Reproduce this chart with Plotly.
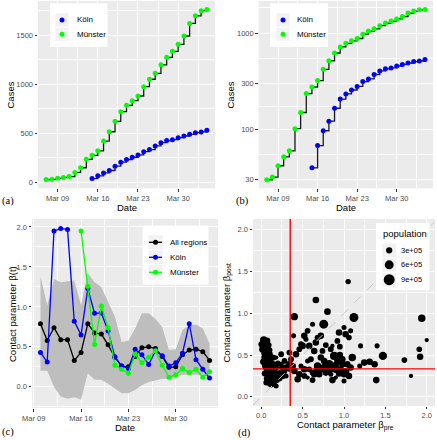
import plotly.graph_objects as go
import pandas as pd

# ---------------- data ----------------
munster_dates = pd.date_range("2020-03-07", "2020-04-04").strftime("%Y-%m-%d").tolist()
munster_cases = [30, 32, 42, 52, 60, 102, 150, 236, 276, 322, 421, 516, 622, 720, 785, 832, 880,
                 975, 1050, 1110, 1197, 1273, 1334, 1405, 1490, 1618, 1695, 1748, 1760]
koln_dates = pd.date_range("2020-03-15", "2020-04-04").strftime("%Y-%m-%d").tolist()
koln_cases = [40, 68, 97, 122, 166, 207, 234, 257, 280, 314, 335, 372, 405, 426, 436, 456,
              473, 490, 507, 514, 532]

beta_dates = pd.date_range("2020-03-10", "2020-04-04").strftime("%Y-%m-%d").tolist()
beta_all = [0.79, 0.58, 0.74, 0.59, 0.59, 0.33, 0.43, 0.79, 0.675, 0.66, 0.525, 0.37, 0.26,
            0.25, 0.38, 0.49, 0.50, 0.48, 0.38, 0.245, 0.25, 0.40, 0.46, 0.47, 0.44, 0.33]
beta_upper = [1.38, 1.02, 1.35, 1.31, 1.32, 1.33, 1.02, 1.42, 1.31, 1.25, 1.06, 0.88, 0.56,
              0.575, 0.73, 0.92, 0.92, 0.85, 0.75, 0.46, 0.47, 0.71, 0.77, 0.78, 0.73, 0.54]
beta_lower = [0.20, 0.20, 0.00, -0.12, -0.15, -0.13, -0.16, 0.17, 0.09, 0.09, 0.04, -0.02,
              -0.08, -0.08, -0.04, 0.02, 0.06, 0.08, 0.10, 0.10, 0.12, 0.15, 0.15, 0.15, 0.15, 0.12]
beta_koln = [0.43, 0.31, 1.95, 1.98, 1.97, 0.82, 0.65, 1.23, 0.92, 0.925, 0.70, 0.375, 0.26,
             0.23, 0.47, 0.40, 0.28, 0.45, 0.39, 0.26, 0.30, 0.42, 0.79, 0.34, 0.22, 0.11]
beta_munster_dates = pd.date_range("2020-03-16", "2020-04-04").strftime("%Y-%m-%d").tolist()
beta_munster = [1.95, 1.26, 0.53, 1.01, 0.74, 0.27, 0.22, 0.17, 0.41, 0.30, 0.37, 0.45, 0.27,
                0.12, 0.15, 0.23, 0.18, 0.22, 0.12, 0.19]

beta_pre = [1.05, 0.66, 1.12, 0.40, 0.80, 0.755, 1.94, 2.00, 1.91, 1.92, 1.73, 1.81, 1.39, 1.40,
            1.47, 1.37, 1.31, 1.245, 1.20, 1.19, 1.08, 1.06, 1.02, 1.00, 0.94, 0.92, 1.10, 1.08,
            1.02, 0.94, 0.86, 0.88, 0.82, 0.76, 0.68, 0.64, 0.62, 0.84, 0.86, 0.56, 0.52, 0.62,
            0.68, 0.50, 0.46, 0.42, 0.39, 0.34, 0.36, 0.46, 0.44, 0.52, 0.56, 0.70, 0.78, 0.98,
            1.04, 0.34, 0.28, 0.28, 0.24, 0.26, 0.30, 0.03, 0.06, 0.02, 0.08, 0.10, 0.04, 0.08,
            0.14, 0.06, 0.12, 0.18, 0.08, 0.14, 0.10, 0.16, 0.12, 0.20, 0.22, 0.24, 0.00, 0.12,
            0.18, 0.04, 0.06, 0.18, 0.30, 0.34, 0.38, 0.40, 0.48, 0.56, 0.64, 0.66, 0.72, 0.58,
            0.54, 0.90, 0.96, 1.00, 1.06, 0.92, 0.98, 0.76, 0.72, 0.84, 0.90, 1.00,
            0.02, 0.05, 0.09, 0.04, 0.07, 0.11, 0.02, 0.05, 0.09, 0.13, 0.16, 0.11, 0.07, 0.04,
            0.07, 0.13, 0.17, 0.09, 0.14, 0.19, 0.22, 0.26, 0.25, 0.20, 0.15, 0.07, 0.10,
            0.72, 0.78, 0.84, 0.80, 0.66, 0.58, 0.90, 0.95, 0.74, 0.78, 0.95, 0.60, 0.48, 0.52, 0.62]
beta_post = [1.38, 1.16, 0.95, 0.96, 1.02, 0.87, 0.94, 0.68, 0.57, 0.48, 0.44, 0.25, 0.20, 0.61,
             0.49, 0.39, 0.42, 0.41, 0.61, 0.37, 0.79, 0.71, 0.75, 0.83, 0.77, 0.67, 0.47, 0.35,
             0.30, 0.28, 0.20, 0.49, 0.39, 0.35, 0.37, 0.55, 0.29, 0.57, 0.61, 0.79, 0.73, 0.87,
             0.71, 0.61, 0.57, 0.51, 0.73, 0.53, 0.45, 0.27, 0.21, 0.33, 0.43, 0.27, 0.29, 0.39,
             0.39, 0.34, 0.31, 0.43, 0.51, 0.24, 0.25, 0.68, 0.65, 0.57, 0.57, 0.51, 0.47, 0.41,
             0.39, 0.35, 0.33, 0.35, 0.27, 0.27, 0.21, 0.19, 0.15, 0.23, 0.29, 0.39, 0.63, 0.47,
             0.47, 0.39, 0.17, 0.13, 0.35, 0.39, 0.37, 0.31, 0.37, 0.23, 0.27, 0.65, 0.73, 0.61,
             0.69, 0.33, 0.33, 0.27, 0.25, 0.43, 0.45, 0.43, 0.47, 0.27, 0.23, 0.19,
             0.62, 0.60, 0.62, 0.52, 0.48, 0.44, 0.42, 0.37, 0.38, 0.35, 0.30, 0.30, 0.31, 0.28,
             0.22, 0.23, 0.25, 0.17, 0.17, 0.20, 0.22, 0.28, 0.35, 0.40, 0.47, 0.67, 0.56,
             0.33, 0.36, 0.33, 0.30, 0.30, 0.33, 0.38, 0.50, 0.55, 0.62, 0.60, 0.45, 0.63, 0.25, 0.20]
population = [220000, 330000, 600000, 400000, 330000, 600000, 420000, 140000, 240000, 320000,
              240000, 140000, 320000, 190000, 520000, 320000, 330000, 330000, 190000, 190000,
              190000, 240000, 320000, 190000, 320000, 250000, 420000, 320000, 420000, 320000,
              320000, 500000, 560000, 420000, 420000, 320000, 250000, 250000, 140000, 250000,
              320000, 190000, 250000, 320000, 250000, 320000, 190000, 250000, 250000, 320000,
              320000, 320000, 190000, 320000, 320000, 320000, 320000, 320000, 250000, 250000,
              250000, 190000, 190000, 420000, 320000, 420000, 320000, 320000, 320000, 320000,
              320000, 320000, 320000, 250000, 320000, 320000, 320000, 320000, 320000, 250000,
              190000, 190000, 250000, 190000, 140000, 250000, 250000, 190000, 320000, 320000,
              320000, 320000, 190000, 140000, 320000, 320000, 320000, 320000, 190000, 420000,
              320000, 320000, 320000, 320000, 320000, 320000, 320000, 190000, 140000, 190000,
              320000, 320000, 250000, 320000, 320000, 320000, 250000, 320000, 320000, 320000,
              320000, 320000, 320000, 250000, 320000, 320000, 320000, 320000, 250000, 250000,
              250000, 250000, 250000, 250000, 250000, 320000, 250000,
              320000, 320000, 320000, 320000, 320000, 250000, 320000, 320000, 250000, 250000,
              250000, 250000, 250000, 250000, 250000]
legend_pops = [300000, 600000, 900000]
legend_pop_labels = ["3e+05", "6e+05", "9e+05"]
beta_ref_pre = 0.35
beta_ref_post = 0.335

# ---------------- styling ----------------
BLUE = "#0000FF"
GREEN = "#00FF00"
PANEL = "#EBEBEB"
KEYBG = "#F2F2F2"
FONT = "Liberation Sans, Arial, sans-serif"
TICKC = "#4D4D4D"
SIZEREF = 15000
W, H = 437, 440


def bubble_diam(p):
    return (2 * p / SIZEREF) ** 0.5


fig = go.Figure()

# (a) linear and (b) log cumulative cases
for xa, ya in [("x", "y"), ("x2", "y2")]:
    for dates, cases in [(koln_dates, koln_cases), (munster_dates, munster_cases)]:
        fig.add_trace(go.Scatter(x=dates, y=cases, mode="lines",
                                 line=dict(shape="hv", color="#1A1A1A", width=1.3),
                                 xaxis=xa, yaxis=ya, hoverinfo="skip"))
    for dates, cases, name, col in [(koln_dates, koln_cases, "Köln", BLUE),
                                    (munster_dates, munster_cases, "Münster", GREEN)]:
        fig.add_trace(go.Scatter(x=dates, y=cases, mode="markers", marker=dict(color=col, size=5),
                                 name=name, xaxis=xa, yaxis=ya))

# (c) contact parameter over time
fig.add_trace(go.Scatter(x=beta_dates, y=beta_upper, mode="lines", line=dict(width=0),
                         xaxis="x3", yaxis="y3", hoverinfo="skip"))
fig.add_trace(go.Scatter(x=beta_dates, y=beta_lower, mode="lines", line=dict(width=0),
                         fill="tonexty", fillcolor="#BEBEBE",
                         xaxis="x3", yaxis="y3", hoverinfo="skip"))
for dates, vals, name, col in [(beta_dates, beta_all, "All regions", "black"),
                               (beta_dates, beta_koln, "Köln", BLUE),
                               (beta_munster_dates, beta_munster, "Münster", GREEN)]:
    fig.add_trace(go.Scatter(x=dates, y=vals, mode="lines+markers", name=name,
                             line=dict(color=col, width=1.3), marker=dict(color=col, size=5),
                             xaxis="x3", yaxis="y3"))

# (d) scatter pre vs post
fig.add_trace(go.Scatter(x=beta_pre, y=beta_post, mode="markers",
                         marker=dict(color="black", size=population, sizemode="area", sizeref=SIZEREF,
                                     opacity=1, line=dict(width=0)),
                         xaxis="x4", yaxis="y4"))
fig.add_trace(go.Scatter(x=[-0.1, 2.1], y=[-0.1, 2.1], mode="lines",
                         line=dict(color="#C8C8C8", width=1, dash="dash"),
                         xaxis="x4", yaxis="y4", hoverinfo="skip"))
fig.add_trace(go.Scatter(x=[beta_ref_pre, beta_ref_pre], y=[-0.2, 2.3], mode="lines",
                         line=dict(color="#FF0000", width=1.4), xaxis="x4", yaxis="y4",
                         hoverinfo="skip"))
fig.add_trace(go.Scatter(x=[-0.2, 2.3], y=[beta_ref_post, beta_ref_post], mode="lines",
                         line=dict(color="#FF0000", width=1.4), xaxis="x4", yaxis="y4",
                         hoverinfo="skip"))


def dom_x(a, b):
    return [a / W, b / W]


def dom_y(top, bottom):
    return [1 - bottom / H, 1 - top / H]


def ax(**kw):
    d = dict(showgrid=True, gridcolor="white", gridwidth=1.1, zeroline=False,
             ticks="outside", ticklen=2.5, tickwidth=1, tickcolor="#333333",
             tickfont=dict(family=FONT, size=7.5, color=TICKC), showline=False,
             automargin=False, fixedrange=True)
    d.update(kw)
    return d


def minor(vals):
    return dict(showgrid=True, gridcolor="white", gridwidth=0.55, ticks="", tickvals=vals)


date_ticks = ["2020-03-09", "2020-03-16", "2020-03-23", "2020-03-30"]
date_minor = ["2020-03-05 12:00", "2020-03-12 12:00", "2020-03-19 12:00",
              "2020-03-26 12:00", "2020-04-02 12:00"]
beta_vals = [0, 0.5, 1, 1.5, 2]
beta_text = ["0.0", "0.5", "1.0", "1.5", "2.0"]

layout = dict(
    width=W, height=H, margin=dict(l=0, r=0, t=0, b=0), showlegend=False,
    paper_bgcolor="white", plot_bgcolor=PANEL, font=dict(family=FONT),
    xaxis=ax(domain=dom_x(38, 215), anchor="y", type="date",
             range=["2020-03-05 14:00", "2020-04-05 10:00"], tickvals=date_ticks,
             tickformat="%b %d", minor=minor(date_minor)),
    yaxis=ax(domain=dom_y(1, 188.3), anchor="x", range=[-59, 1846],
             tickvals=[0, 500, 1000, 1500], minor=minor([250, 750, 1250, 1750])),
    xaxis2=ax(domain=dom_x(258.7, 433), anchor="y2", type="date",
              range=["2020-03-05 14:00", "2020-04-05 10:00"], tickvals=date_ticks,
              tickformat="%b %d", minor=minor(date_minor)),
    yaxis2=ax(domain=dom_y(1, 188.3), anchor="x2", type="log", range=[1.389, 3.334],
              tickvals=[30, 100, 300, 1000], ticktext=["30", "100", "300", "1000"],
              minor=minor([54.8, 173.2, 547.7, 1828])),
    xaxis3=ax(domain=dom_x(32, 218), anchor="y3", type="date",
              range=["2020-03-08 18:00", "2020-04-05 06:00"], tickvals=date_ticks,
              tickformat="%b %d", minor=minor(date_minor)),
    yaxis3=ax(domain=dom_y(219, 408), anchor="x3", range=[-0.265, 2.1],
              tickvals=beta_vals, ticktext=beta_text, minor=minor([-0.25, 0.25, 0.75, 1.25, 1.75])),
    xaxis4=ax(domain=dom_x(253, 435), anchor="y4", range=[-0.1, 2.1], ticklen=2,
              tickvals=beta_vals, ticktext=beta_text, minor=minor([0.25, 0.75, 1.25, 1.75])),
    yaxis4=ax(domain=dom_y(219, 406), anchor="x4", range=[-0.11, 2.13],
              tickvals=beta_vals, ticktext=beta_text, minor=minor([0.25, 0.75, 1.25, 1.75])),
)

shapes = []
annotations = []


def px_x(x):
    return x / W


def px_y(y):
    return 1 - y / H


def add_text(text, x, y, size=8, anchor="left", angle=0, family=FONT, color="black"):
    annotations.append(dict(text=text, x=px_x(x), y=px_y(y), xref="paper", yref="paper",
                            xanchor=anchor, yanchor="middle", showarrow=False, textangle=angle,
                            font=dict(family=family, size=size, color=color)))


def add_rect(x0, y0, x1, y1, fill, line_color=None, line_width=0):
    shapes.append(dict(type="rect", xref="paper", yref="paper", x0=px_x(x0), x1=px_x(x1),
                       y0=px_y(y1), y1=px_y(y0), fillcolor=fill,
                       line=dict(color=line_color or fill, width=line_width), layer="above"))


def add_dot(cx, cy, d, color):
    shapes.append(dict(type="circle", xref="paper", yref="paper", x0=px_x(cx - d / 2),
                       x1=px_x(cx + d / 2), y0=px_y(cy + d / 2), y1=px_y(cy - d / 2),
                       fillcolor=color, line=dict(width=0), layer="above"))


def add_seg(x0, x1, y, color, width=1.3):
    shapes.append(dict(type="line", xref="paper", yref="paper", x0=px_x(x0), x1=px_x(x1),
                       y0=px_y(y), y1=px_y(y), line=dict(color=color, width=width), layer="above"))


# axis titles
TS = 9.5
add_text("Date", 126.5, 207.5, TS, "center")
add_text("Cases", 9.5, 95, TS, "center", -90)
add_text("Date", 346, 207.5, TS, "center")
add_text("Cases", 229.5, 95, TS, "center", -90)
add_text("Date", 125, 427.5, TS, "center")
add_text("Contact parameter β(t)", 12, 314, TS, "center", -90)
add_text("Contact parameter β<sub>pre</sub>", 345.5, 425, TS, "center")
add_text("Contact parameter β<sub>post</sub>", 226.5, 313, TS, "center", -90)

# panel tags
serif = "Liberation Serif, Times New Roman, serif"
add_text("(a)", 0, 201, 10.5, family=serif)
add_text("(b)", 234, 201, 10.5, family=serif)
add_text("(c)", 0, 432, 10.5, family=serif)
add_text("(d)", 236, 433, 10.5, family=serif)

# legend (a) and (b)
for bx0, bx1, dotx, textx in [(50, 107.5, 62, 75), (270, 328, 283, 295)]:
    add_rect(bx0, 3.3, bx1, 47, "white")
    for rowy, name, col in [(20, "Köln", BLUE), (34.3, "Münster", GREEN)]:
        add_rect(dotx - 7, rowy - 7, dotx + 7, rowy + 7, KEYBG, "white", 0.8)
        add_dot(dotx, rowy, 5, col)
        add_text(name, textx, rowy, 8)

# legend (c)
add_rect(142.5, 225.5, 208.5, 284.5, "white")
for rowy, name, col in [(242.3, "All regions", "black"), (257.3, "Köln", BLUE), (272.3, "Münster", GREEN)]:
    add_rect(148, rowy - 7.5, 163, rowy + 7.5, KEYBG, "white", 0.8)
    add_seg(149, 162, rowy, col)
    add_dot(155.5, rowy, 5, col)
    add_text(name, 168, rowy, 8)

# legend (d)
add_rect(376, 223, 429.5, 290, "white")
add_text("population", 380.5, 233.5, 9.5)
for rowy, p, lab in zip([250.3, 264.8, 279.7], legend_pops, legend_pop_labels):
    add_rect(382, rowy - 7.2, 396.5, rowy + 7.2, KEYBG, "white", 0.8)
    add_dot(389.2, rowy, bubble_diam(p), "black")
    add_text(lab, 399, rowy, 7.5)

layout["shapes"] = shapes
layout["annotations"] = annotations
fig.update_layout(**layout)
fig.update_traces(showlegend=False)
fig.write_html("out.html", config={"displayModeBar": False},
               post_script="document.body.style.margin='0px';document.body.style.overflow='hidden';")
